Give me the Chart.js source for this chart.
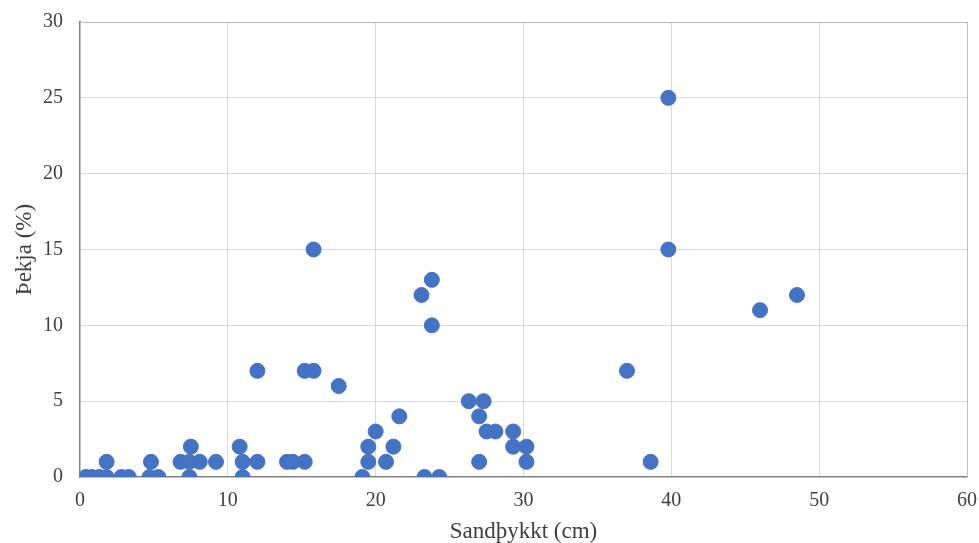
<!DOCTYPE html>
<html>
<head>
<meta charset="utf-8">
<script src="https://cdn.jsdelivr.net/npm/chart.js@4"></script>
<style>
  html, body { margin: 0; padding: 0; background: #fff; }
  #wrap { width: 979px; height: 543px; }
</style>
</head>
<body>
<div id="wrap"><canvas id="scatter" width="979" height="543"></canvas></div>
<script>
// Sandþykkt (cm) and Þekja (%)
var sandX = [
    0.4, 0.8, 1.3, 1.8, 2.8, 3.3, 4.7, 5.3, 7.4, 11.0, 19.1, 23.3, 24.3,
    1.8, 4.8, 6.8, 7.4, 8.1, 9.2, 11.0, 12.0, 14.0, 14.4, 15.2, 19.5, 20.7, 27.0, 30.2, 38.6,
    7.5, 10.8, 19.5, 21.2, 29.3, 30.2,
    20.0, 27.5, 28.1, 29.3,
    21.6, 27.0,
    26.3, 27.3,
    17.5,
    12.0, 15.2, 15.8, 37.0,
    23.8, 46.0, 23.1, 48.5, 23.8,
    15.8, 39.8, 39.8
];
var thekjaY = [
    0, 0, 0, 0, 0, 0, 0, 0, 0, 0, 0, 0, 0,
    1, 1, 1, 1, 1, 1, 1, 1, 1, 1, 1, 1, 1, 1, 1, 1,
    2, 2, 2, 2, 2, 2,
    3, 3, 3, 3,
    4, 4,
    5, 5,
    6,
    7, 7, 7, 7,
    10, 11, 12, 12, 13,
    15, 15, 25
];

var points = sandX.map(function (x, i) { return { x: x, y: thekjaY[i] }; });

var serif = 'Liberation Serif';
var textGrey = '#404040';

// thin box round the plot area
var frame = {
    id: 'frame',
    beforeDatasetsDraw: function (chart) {
        var a = chart.chartArea, c = chart.ctx;
        c.save();
        c.strokeStyle = '#bfbfbf';
        c.lineWidth = 1;
        c.strokeRect(a.left + 0.5, a.top + 0.5, a.right - a.left, a.bottom - a.top);
        c.restore();
    }
};

var ctx = document.getElementById('scatter').getContext('2d');
var myChart = new Chart(ctx, {
    type: 'scatter',
    data: {
        datasets: [{
            label: 'Þekja',
            data: points,
            backgroundColor: '#4472c4',
            borderColor: '#4472c4',
            pointRadius: 7.5,
            pointHoverRadius: 7.5
        }]
    },
    options: {
        responsive: false,
        animation: false,
        layout: { padding: { top: 22, right: 0, left: 0, bottom: 0 } },
        plugins: {
            legend: { display: false },
            tooltip: { enabled: false }
        },
        scales: {
            x: {
                type: 'linear',
                min: 0, max: 60,
                ticks: { stepSize: 10, color: textGrey, padding: 12, font: { family: serif, size: 20 } },
                grid: { color: '#d9d9d9', drawTicks: false },
                border: { color: '#808080', width: 2 },
                title: { display: true, text: 'Sandþykkt (cm)', color: textGrey, font: { family: serif, size: 23, lineHeight: 1 }, padding: { top: 0, bottom: 0 } },
                afterFit: function (s) { s.height = 66; s.paddingRight = 12; s.paddingLeft = 0; }
            },
            y: {
                min: 0, max: 30,
                ticks: { stepSize: 5, color: textGrey, padding: 17, font: { family: serif, size: 20 } },
                grid: { color: '#d9d9d9', drawTicks: false },
                border: { color: '#808080', width: 2 },
                title: { display: true, text: 'Þekja (%)', color: textGrey, font: { family: serif, size: 23, lineHeight: 1 }, padding: { top: 13, bottom: 0 } },
                afterFit: function (s) { s.width = 80; s.paddingTop = 0; s.paddingBottom = 0; }
            }
        }
    },
    plugins: [frame]
});
</script>
</body>
</html>
